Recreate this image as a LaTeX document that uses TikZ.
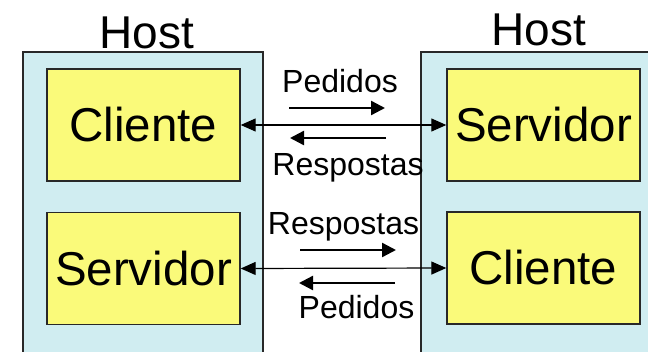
\documentclass[tikz,border=0pt]{standalone}
\usepackage{fontspec}
\setmainfont{Liberation Sans}
\usetikzlibrary{arrows.meta}
\definecolor{hostfill}{RGB}{208,237,241}
\definecolor{appfill}{RGB}{250,250,122}
\definecolor{edge}{RGB}{40,40,40}
\tikzset{
  hostbox/.style={draw=edge, line width=1.4pt, fill=hostfill},
  appbox/.style={draw=edge, line width=1.4pt, fill=appfill, minimum width=193pt,
    minimum height=112pt, inner sep=0pt, font=\fontsize{47.5}{52}\selectfont},
  hostlabel/.style={anchor=base, inner sep=0pt, font=\fontsize{46}{50}\selectfont},
  msglabel/.style={anchor=base, inner sep=0pt, font=\fontsize{32}{36}\selectfont},
  link/.style={line width=1.2pt, {Triangle[length=15pt,width=13pt]}-{Triangle[length=15pt,width=13pt]}},
  flow/.style={line width=2.4pt, -{Triangle[length=14pt,width=14pt]}}
}
\begin{document}
\begin{tikzpicture}[x=1pt,y=-1pt]
\clip (0,0) rectangle (648,351);
\fill[white] (0,0) rectangle (648,351);

% the two hosts, open towards the bottom and right edges
\draw[hostbox] (23,52) rectangle (263,370);
\draw[hostbox] (421,52) rectangle (670,370);
\node[hostlabel] (h1) at (147,48) {Host};
\node[hostlabel] (h2) at (539,45) {Host};

% processes inside each host
\node[appbox] (cli1) at (143.5,125) {Cliente};
\node[appbox] (srv2) at (143.5,268.5) {Servidor};
\node[appbox] (srv1) at (543.5,125) {Servidor};
\node[appbox] (cli2) at (543.5,268) {Cliente};

% connections between the processes
\draw[link] (cli1.east) -- (srv1.west);
\draw[link] (srv2.east) -- (cli2.west);

% message flow, upper pair
\coordinate (p1a) at (289,108);
\coordinate (p1b) at (385,108);
\coordinate (r1a) at (386,138);
\coordinate (r1b) at (290,138);
\draw[flow] (p1a) -- (p1b);
\draw[flow] (r1a) -- (r1b);
\node[msglabel] (m1) at (340,92) {Pedidos};
\node[msglabel] (m2) at (348,175) {Respostas};

% message flow, lower pair
\coordinate (r2a) at (300,250);
\coordinate (r2b) at (396,250);
\coordinate (p2a) at (395,283);
\coordinate (p2b) at (299,283);
\draw[flow] (r2a) -- (r2b);
\draw[flow] (p2a) -- (p2b);
\node[msglabel] (m3) at (343.5,234) {Respostas};
\node[msglabel] (m4) at (356.5,318) {Pedidos};
\end{tikzpicture}
\end{document}
